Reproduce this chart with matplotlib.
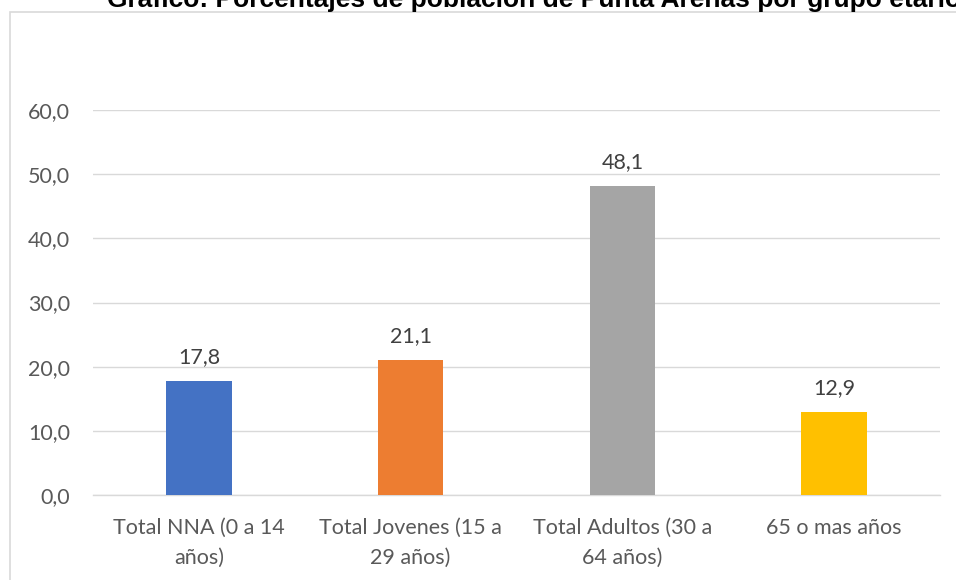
import matplotlib
matplotlib.use("Agg")
import matplotlib.pyplot as plt
from matplotlib.patches import Rectangle
from matplotlib.ticker import FuncFormatter

categories = ["Total NNA (0 a 14\naños)", "Total Jovenes (15 a\n29 años)",
              "Total Adultos (30 a\n64 años)", "65 o mas años"]
values = [17.8, 21.1, 48.1, 12.9]
colors = ["#4472C4", "#ED7D31", "#A5A5A5", "#FFC000"]
title = "Gráfico: Porcentajes de población de Punta Arenas por grupo etario"

W, H = 956, 580
fig = plt.figure(figsize=(W / 100, H / 100), dpi=100)
fam = ["Lato", "DejaVu Sans"]

# outer frame
fig.patches.append(Rectangle((10 / W, -0.1), 1.2, (H - 12) / H + 0.1, transform=fig.transFigure,
                             fill=False, edgecolor="#D9D9D9", linewidth=1.2))
fig.text(107 / W, (H - 7) / H, title, fontsize=19, fontweight="bold",
         family=["Liberation Sans", "DejaVu Sans"], va="baseline", ha="left", color="#000000")

ax = fig.add_axes([93 / W, (H - 495) / H, (940 - 93) / W, (495 - 110) / H])
x = list(range(len(values)))
ax.bar(x, values, width=0.31, color=colors, zorder=3)
ax.set_xlim(-0.5, len(values) - 0.5)
ax.set_ylim(0, 60)
ax.set_yticks(range(0, 61, 10))
ax.yaxis.set_major_formatter(FuncFormatter(lambda v, p: f"{v:.1f}".replace(".", ",")))
ax.grid(axis="y", color="#D9D9D9", linewidth=1, zorder=0)
for s in ["top", "right", "left"]:
    ax.spines[s].set_visible(False)
ax.spines["bottom"].set_color("#D9D9D9")
ax.spines["bottom"].set_linewidth(1)
ax.tick_params(axis="both", length=0, colors="#595959", labelsize=15.5)
ax.tick_params(axis="y", pad=16.5)
ax.tick_params(axis="x", pad=16.5)
ax.set_xticks(x)
ax.set_xticklabels(categories, family=fam, linespacing=1.65)
for lbl in ax.get_yticklabels():
    lbl.set_family(fam)
for xi, v in zip(x, values):
    ax.annotate(f"{v:.1f}".replace(".", ","), (xi, v), xytext=(0, 10), textcoords="offset points",
                ha="center", va="bottom", fontsize=15.5, color="#404040", family=fam)

fig.savefig("out.png", dpi=100)
